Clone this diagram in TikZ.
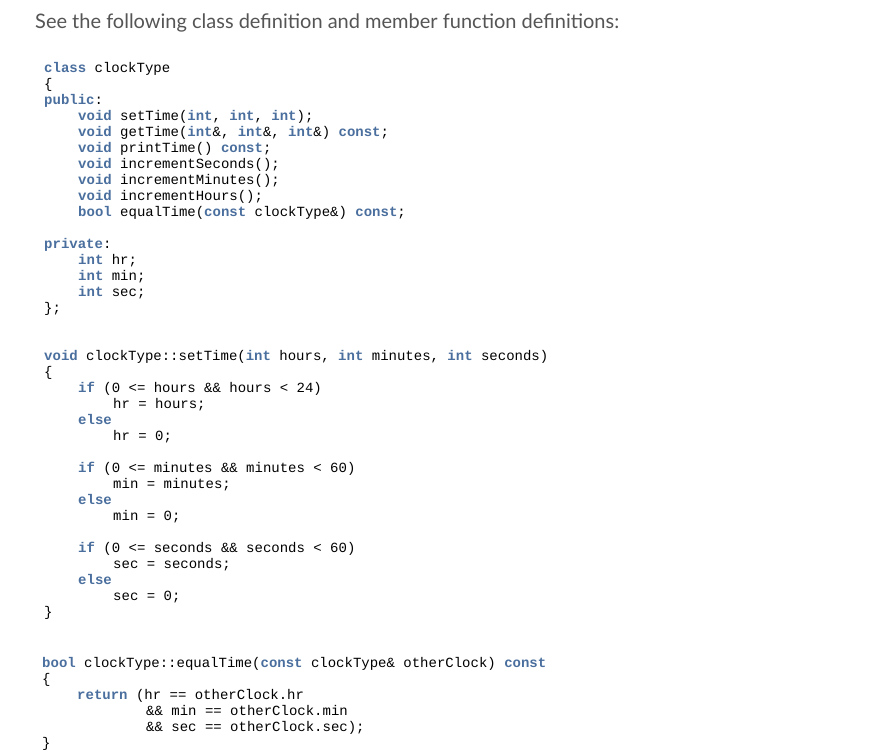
\documentclass[tikz,border=0pt]{standalone}
\usepackage{fontspec}
\setmainfont{Lato}
\setmonofont{Liberation Mono}
\definecolor{kwc}{HTML}{4A6F9E}
\definecolor{titc}{HTML}{555555}
\newcommand{\kw}[1]{\textcolor{kwc}{\bfseries #1}}
\tikzset{code/.style={anchor=base west,inner sep=0pt,font=\ttfamily\fontsize{14}{16}\selectfont,text=black}}
\begin{document}
\begin{tikzpicture}[x=1pt,y=-1pt]
\useasboundingbox[fill=white] (0,0) rectangle (893,752);
\node[anchor=base west,inner sep=0pt,font=\fontsize{20}{24}\selectfont,text=titc] (title) at (35,29) {See the following class definition and member function definitions:};
\node[code] (a1) at (44,72) {\kw{class} clockType};
\node[code] (a2) at (44,88) {\{};
\node[code] (a3) at (44,104) {\kw{public}:};
\node[code] (a4) at (78,120) {\kw{void} setTime(\kw{int}, \kw{int}, \kw{int});};
\node[code] (a5) at (78,136) {\kw{void} getTime(\kw{int}\&, \kw{int}\&, \kw{int}\&) \kw{const};};
\node[code] (a6) at (78,152) {\kw{void} printTime() \kw{const};};
\node[code] (a7) at (78,168) {\kw{void} incrementSeconds();};
\node[code] (a8) at (78,184) {\kw{void} incrementMinutes();};
\node[code] (a9) at (78,200) {\kw{void} incrementHours();};
\node[code] (a10) at (78,216) {\kw{bool} equalTime(\kw{const} clockType\&) \kw{const};};
\node[code] (a11) at (44,248) {\kw{private}:};
\node[code] (a12) at (78,264) {\kw{int} hr;};
\node[code] (a13) at (78,280) {\kw{int} min;};
\node[code] (a14) at (78,296) {\kw{int} sec;};
\node[code] (a15) at (44,312) {\};};
\node[code] (b1) at (44,360) {\kw{void} clockType::setTime(\kw{int} hours, \kw{int} minutes, \kw{int} seconds)};
\node[code] (b2) at (44,376) {\{};
\node[code] (b3) at (78,392) {\kw{if} (0 <= hours \&\& hours < 24)};
\node[code] (b4) at (113,408) {hr = hours;};
\node[code] (b5) at (78,424) {\kw{else}};
\node[code] (b6) at (113,440) {hr = 0;};
\node[code] (b7) at (78,472) {\kw{if} (0 <= minutes \&\& minutes < 60)};
\node[code] (b8) at (113,488) {min = minutes;};
\node[code] (b9) at (78,504) {\kw{else}};
\node[code] (b10) at (113,520) {min = 0;};
\node[code] (b11) at (78,552) {\kw{if} (0 <= seconds \&\& seconds < 60)};
\node[code] (b12) at (113,568) {sec = seconds;};
\node[code] (b13) at (78,584) {\kw{else}};
\node[code] (b14) at (113,600) {sec = 0;};
\node[code] (b15) at (44,616) {\}};
\node[code] (c1) at (42,667) {\kw{bool} clockType::equalTime(\kw{const} clockType\& otherClock) \kw{const}};
\node[code] (c2) at (42,683) {\{};
\node[code] (c3) at (77,699) {\kw{return} (hr == otherClock.hr};
\node[code] (c4) at (146,715) {\&\& min == otherClock.min};
\node[code] (c5) at (146,731) {\&\& sec == otherClock.sec);};
\node[code] (c6) at (42,747) {\}};
\end{tikzpicture}
\end{document}
